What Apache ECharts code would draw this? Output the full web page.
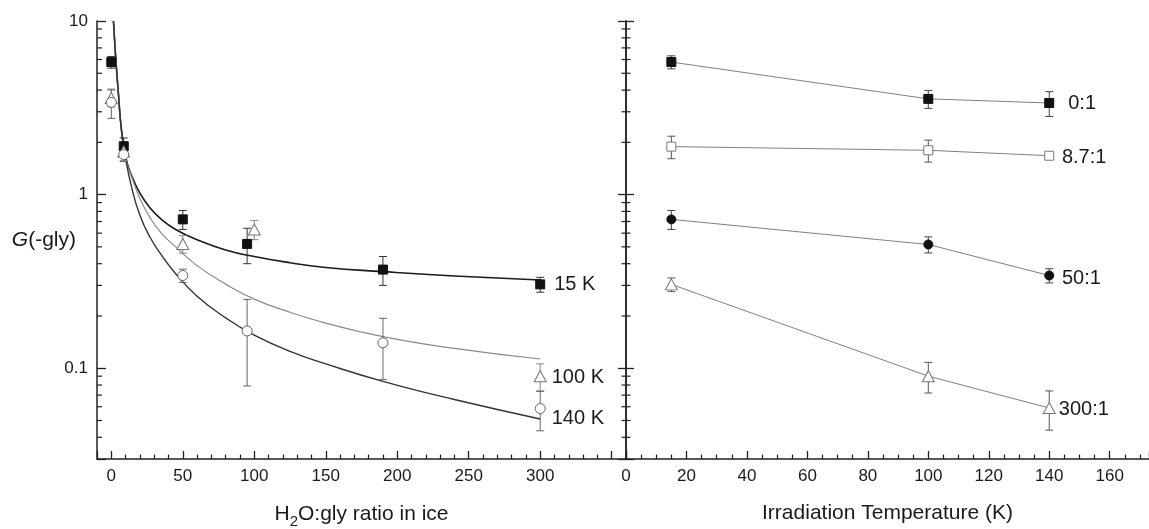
<!DOCTYPE html>
<html><head><meta charset="utf-8">
<script src="https://cdn.jsdelivr.net/npm/echarts@6/dist/echarts.min.js"></script>
<style>html,body{margin:0;padding:0;background:#fff}#c{width:1149px;height:529px}</style>
</head><body><div id="c"></div>
<script>
// ---------- Left panel: G(-gly) vs H2O:gly ratio ----------
const k15X = [0, 8.7, 50, 95, 190, 300];
const k15Y = [5.8, 1.9, 0.72, 0.52, 0.37, 0.304];
const k15E = [0.45, 0.22, 0.09, 0.12, 0.07, 0.03];

const k100X = [0, 8.7, 50, 100, 300];
const k100Y = [3.6, 1.77, 0.52, 0.63, 0.09];
const k100E = [0.4, 0.2, 0.06, 0.08, 0.016];

const k140X = [0, 8.7, 50, 95, 190, 300];
const k140Y = [3.4, 1.7, 0.342, 0.164, 0.14, 0.0586];
const k140E = [0.65, 0.15, 0.03, 0.085, 0.054, 0.015];

// fitted curves
const fitX = [1.5, 2.5, 3.5, 5, 7, 10, 14, 20, 27, 35, 45, 60, 80, 100, 125, 150, 190, 240, 300];
const fit15Y = [10, 7.3, 5.5, 3.8, 2.4, 1.65, 1.3, 1.02, 0.84, 0.72, 0.63, 0.55, 0.48, 0.44, 0.405, 0.38, 0.36, 0.34, 0.322];
const fit100Y = [10, 7.3, 5.5, 3.8, 2.4, 1.62, 1.28, 0.95, 0.74, 0.6, 0.5, 0.39, 0.305, 0.25, 0.21, 0.182, 0.152, 0.13, 0.113];
const fit140Y = [10, 7.3, 5.5, 3.8, 2.4, 1.62, 1.12, 0.76, 0.57, 0.45, 0.35, 0.26, 0.195, 0.155, 0.125, 0.106, 0.084, 0.066, 0.051];

const leftLabels = ['15 K', '100 K', '140 K'];

// ---------- Right panel: G(-gly) vs irradiation temperature ----------
const tempX = [15, 100, 140];
const r0Y = [5.8, 3.56, 3.37];
const r0E = [0.5, 0.42, 0.55];
const r87Y = [1.89, 1.80, 1.675];
const r87E = [0.28, 0.26, 0.04];
const r50Y = [0.72, 0.516, 0.342];
const r50E = [0.09, 0.055, 0.032];
const r300Y = [0.304, 0.090, 0.059];
const r300E = [0.027, 0.018, 0.015];
const rightLabels = ['0:1', '8.7:1', '50:1', '300:1'];

// axes
const xTicksLeft = [0, 50, 100, 150, 200, 250, 300];
const xTicksRight = [0, 20, 40, 60, 80, 100, 120, 140, 160];
const yTicks = [0.1, 1, 10];
const yMinorTicks = [0.04, 0.05, 0.06, 0.07, 0.08, 0.09, 0.2, 0.3, 0.4, 0.5, 0.6, 0.7, 0.8, 0.9, 2, 3, 4, 5, 6, 7, 8, 9];
const xLeftMin = -10, xLeftMax = 360, xRightMin = 0, xRightMax = 173, yMin = 0.03, yMax = 10;

const TXT = '#1a1a1a';
const AX = '#222';
const FONT = '"Liberation Sans", Arial, sans-serif';

function zip(a, b) { return a.map((v, i) => [v, b[i]]); }
function errData(xs, ys, es) { return xs.map((x, i) => [x, ys[i] - es[i], ys[i] + es[i]]); }

function errRender(params, api) {
  const x = api.value(0), lo = api.value(1), hi = api.value(2);
  const p1 = api.coord([x, hi]), p2 = api.coord([x, lo]);
  const w = 4;
  const style = { stroke: api.visual('color'), lineWidth: 1, fill: null };
  return { type: 'group', children: [
    { type: 'line', shape: { x1: p1[0], y1: p1[1], x2: p2[0], y2: p2[1] }, style: style },
    { type: 'line', shape: { x1: p1[0] - w, y1: p1[1], x2: p1[0] + w, y2: p1[1] }, style: style },
    { type: 'line', shape: { x1: p2[0] - w, y1: p2[1], x2: p2[0] + w, y2: p2[1] }, style: style }
  ]};
}

function errSeries(xi, yi, xs, ys, es, color) {
  return { type: 'custom', xAxisIndex: xi, yAxisIndex: yi, renderItem: errRender,
    itemStyle: { color: color }, data: errData(xs, ys, es), z: 2, silent: true,
    encode: { x: 0, y: [1, 2] } };
}

// minor ticks of the log axes (2..9 within each decade)
function minorTickSeries(xi, yi, xAt, before, after) {
  return { type: 'custom', xAxisIndex: xi, yAxisIndex: yi, silent: true, z: 5,
    data: yMinorTicks.map(v => [xAt, v]), encode: { x: 0, y: 1 },
    renderItem: function (params, api) {
      const p = api.coord([api.value(0), api.value(1)]);
      return { type: 'line', shape: { x1: p[0] - before, y1: p[1], x2: p[0] + after, y2: p[1] },
        style: { stroke: AX, lineWidth: 1.2 } };
    } };
}

function scatterSeries(xi, yi, xs, ys, symbol, size, fill, border, label, dist, offY) {
  const data = zip(xs, ys).map((p, i) => {
    if (i === xs.length - 1) {
      return { value: p, label: { show: true, position: 'right', distance: dist, offset: [0, offY],
        formatter: label, fontSize: 20, color: TXT, fontFamily: FONT } };
    }
    return p;
  });
  return { type: 'scatter', xAxisIndex: xi, yAxisIndex: yi, symbol: symbol, symbolSize: size,
    itemStyle: { color: fill, borderColor: border, borderWidth: 1, opacity: 1 }, data: data, z: 3 };
}

function fitSeries(ys, color, width) {
  return { type: 'line', xAxisIndex: 0, yAxisIndex: 0, data: zip(fitX, ys), showSymbol: false,
    symbol: 'none', smooth: 0.5, lineStyle: { color: color, width: width }, z: 1 };
}

function lineSeries(ys) {
  return { type: 'line', xAxisIndex: 1, yAxisIndex: 1, data: zip(tempX, ys), symbol: 'none',
    lineStyle: { color: '#808080', width: 1 }, z: 1 };
}

function yLabelFmt(v) {
  for (const t of yTicks) { if (Math.abs(v - t) / t < 1e-6) return String(t); }
  return '';
}

const axLine = { show: true, onZero: false, lineStyle: { color: AX, width: 1.5 } };

function logAxis(grid, inside, len, labels) {
  return { gridIndex: grid, type: 'log', logBase: 10, min: yMin, max: yMax, position: 'left',
    axisLine: axLine,
    axisTick: { inside: inside, length: len, lineStyle: { color: AX, width: 1.3 } },
    minorTick: { show: false }, splitLine: { show: false }, minorSplitLine: { show: false },
    axisLabel: labels ? { fontSize: 17, color: TXT, margin: 9, fontFamily: FONT, formatter: yLabelFmt } : { show: false } };
}

const yLeft = logAxis(0, true, 9, true);
Object.assign(yLeft, {
  name: '{i|G}{n|(-gly)}', nameLocation: 'middle', nameRotate: 0, nameGap: 21, nameMoveOverlap: false,
  nameTextStyle: { rich: {
    i: { fontSize: 21, fontStyle: 'italic', color: TXT, fontFamily: FONT },
    n: { fontSize: 21, color: TXT, fontFamily: FONT }
  } }
});

const option = {
  animation: false,
  backgroundColor: '#fff',
  textStyle: { fontFamily: FONT },
  grid: [
    { left: 97, top: 21, width: 529, height: 438, containLabel: false, outerBoundsMode: 'none' },
    { left: 626, top: 21, width: 523, height: 438, containLabel: false, outerBoundsMode: 'none' }
  ],
  xAxis: [
    { gridIndex: 0, type: 'value', min: xLeftMin, max: xLeftMax, splitNumber: 7,
      axisLine: axLine,
      axisTick: { inside: true, length: 8, lineStyle: { color: AX, width: 1.3 } },
      minorTick: { show: true, splitNumber: 5, length: 4.5, lineStyle: { color: AX, width: 1.2 } },
      splitLine: { show: false }, minorSplitLine: { show: false },
      axisLabel: { fontSize: 17, color: TXT, margin: 9, fontFamily: FONT,
        formatter: v => xTicksLeft.indexOf(v) >= 0 ? String(v) : '' },
      name: '{n|H}{s|2}{n|O:gly ratio in ice}', nameLocation: 'middle', nameGap: 40, nameMoveOverlap: false,
      nameTextStyle: { rich: {
        n: { fontSize: 21, color: TXT, fontFamily: FONT, lineHeight: 30 },
        s: { fontSize: 15, color: TXT, fontFamily: FONT, lineHeight: 30, verticalAlign: 'bottom' }
      } } },
    { gridIndex: 1, type: 'value', min: xRightMin, max: xRightMax, interval: 20,
      axisLine: axLine,
      axisTick: { inside: true, length: 8, lineStyle: { color: AX, width: 1.3 } },
      minorTick: { show: true, splitNumber: 4, length: 4.5, lineStyle: { color: AX, width: 1.2 } },
      splitLine: { show: false }, minorSplitLine: { show: false },
      axisLabel: { fontSize: 17, color: TXT, margin: 9, fontFamily: FONT,
        formatter: v => xTicksRight.indexOf(v) >= 0 ? String(v) : '' },
      name: 'Irradiation Temperature (K)', nameLocation: 'middle', nameGap: 44, nameMoveOverlap: false,
      nameTextStyle: { fontSize: 21, color: TXT, fontFamily: FONT } }
  ],
  yAxis: [
    yLeft,
    logAxis(1, true, 8, false),
    logAxis(1, false, 8, false)
  ],
  series: [
    fitSeries(fit15Y, '#1a1a1a', 1.6),
    fitSeries(fit100Y, '#8a8a8a', 1.2),
    fitSeries(fit140Y, '#333333', 1.4),
    errSeries(0, 0, k15X, k15Y, k15E, '#333'),
    errSeries(0, 0, k100X, k100Y, k100E, '#888'),
    errSeries(0, 0, k140X, k140Y, k140E, '#666'),
    scatterSeries(0, 0, k15X, k15Y, 'rect', 9, '#111', '#111', leftLabels[0], 9, 0),
    scatterSeries(0, 0, k100X, k100Y, 'triangle', [12, 11], '#fff', '#777', leftLabels[1], 5, 1.5),
    scatterSeries(0, 0, k140X, k140Y, 'circle', 10, '#fff', '#666', leftLabels[2], 6, 10),
    minorTickSeries(0, 0, xLeftMin, 0, 5),

    lineSeries(r0Y), lineSeries(r87Y), lineSeries(r50Y), lineSeries(r300Y),
    errSeries(1, 1, tempX, r0Y, r0E, '#444'),
    errSeries(1, 1, tempX, r87Y, r87E, '#555'),
    errSeries(1, 1, tempX, r50Y, r50E, '#444'),
    errSeries(1, 1, tempX, r300Y, r300E, '#555'),
    scatterSeries(1, 1, tempX, r0Y, 'rect', 9, '#111', '#111', rightLabels[0], 14, 0),
    scatterSeries(1, 1, tempX, r87Y, 'rect', 9, '#fff', '#777', rightLabels[1], 7.7, 2),
    scatterSeries(1, 1, tempX, r50Y, 'circle', 9, '#111', '#111', rightLabels[2], 7.7, 3),
    scatterSeries(1, 1, tempX, r300Y, 'triangle', [12, 11], '#fff', '#777', rightLabels[3], 3, 1),
    minorTickSeries(1, 1, xRightMin, 4.5, 4.5)
  ]
};

const chart = echarts.init(document.getElementById('c'), null, { renderer: 'canvas' });
chart.setOption(option);
</script>
</body></html>
